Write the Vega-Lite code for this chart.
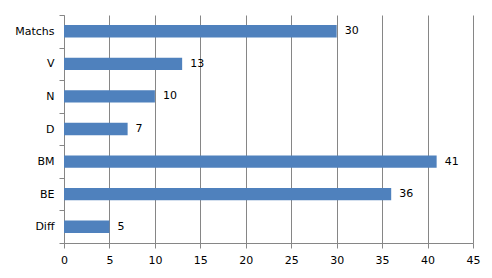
{
  "$schema": "https://vega.github.io/schema/vega-lite/v6.json",
  "width": 409,
  "height": 228,
  "autosize": {"type": "none"},
  "padding": {"left": 64, "top": 15, "right": 19, "bottom": 35},
  "background": "white",
  "config": {
    "view": {"stroke": null},
    "font": "DejaVu Sans",
    "axis": {"labelFont": "DejaVu Sans", "labelFontSize": 11, "labelColor": "#000000", "domainColor": "#868686", "tickColor": "#868686", "gridColor": "#868686", "gridOpacity": 1}
  },
  "data": {
    "values": [
      {"cat": "Matchs", "value": 30},
      {"cat": "V", "value": 13},
      {"cat": "N", "value": 10},
      {"cat": "D", "value": 7},
      {"cat": "BM", "value": 41},
      {"cat": "BE", "value": 36},
      {"cat": "Diff", "value": 5}
    ]
  },
  "encoding": {
    "y": {
      "field": "cat", "type": "nominal", "sort": null,
      "scale": {"paddingInner": 0.62, "paddingOuter": 0.31},
      "axis": {"title": null, "bandPosition": 2.6316, "tickExtra": true, "tickOffset": -10.097, "labelOffset": 10.097, "tickSize": 5, "labelPadding": 5, "grid": false}
    },
    "x": {
      "field": "value", "type": "quantitative",
      "scale": {"domain": [0, 45], "nice": false},
      "axis": {"title": null, "values": [0,5,10,15,20,25,30,35,40,45], "tickSize": 5, "labelPadding": 6, "grid": true, "labelFlush": false}
    }
  },
  "layer": [
    {"mark": {"type": "bar", "color": "#4F81BD"}},
    {"mark": {"type": "text", "align": "left", "dx": 8, "fontSize": 11, "font": "DejaVu Sans", "color": "#000000"}, "encoding": {"text": {"field": "value", "type": "quantitative"}}}
  ]
}
